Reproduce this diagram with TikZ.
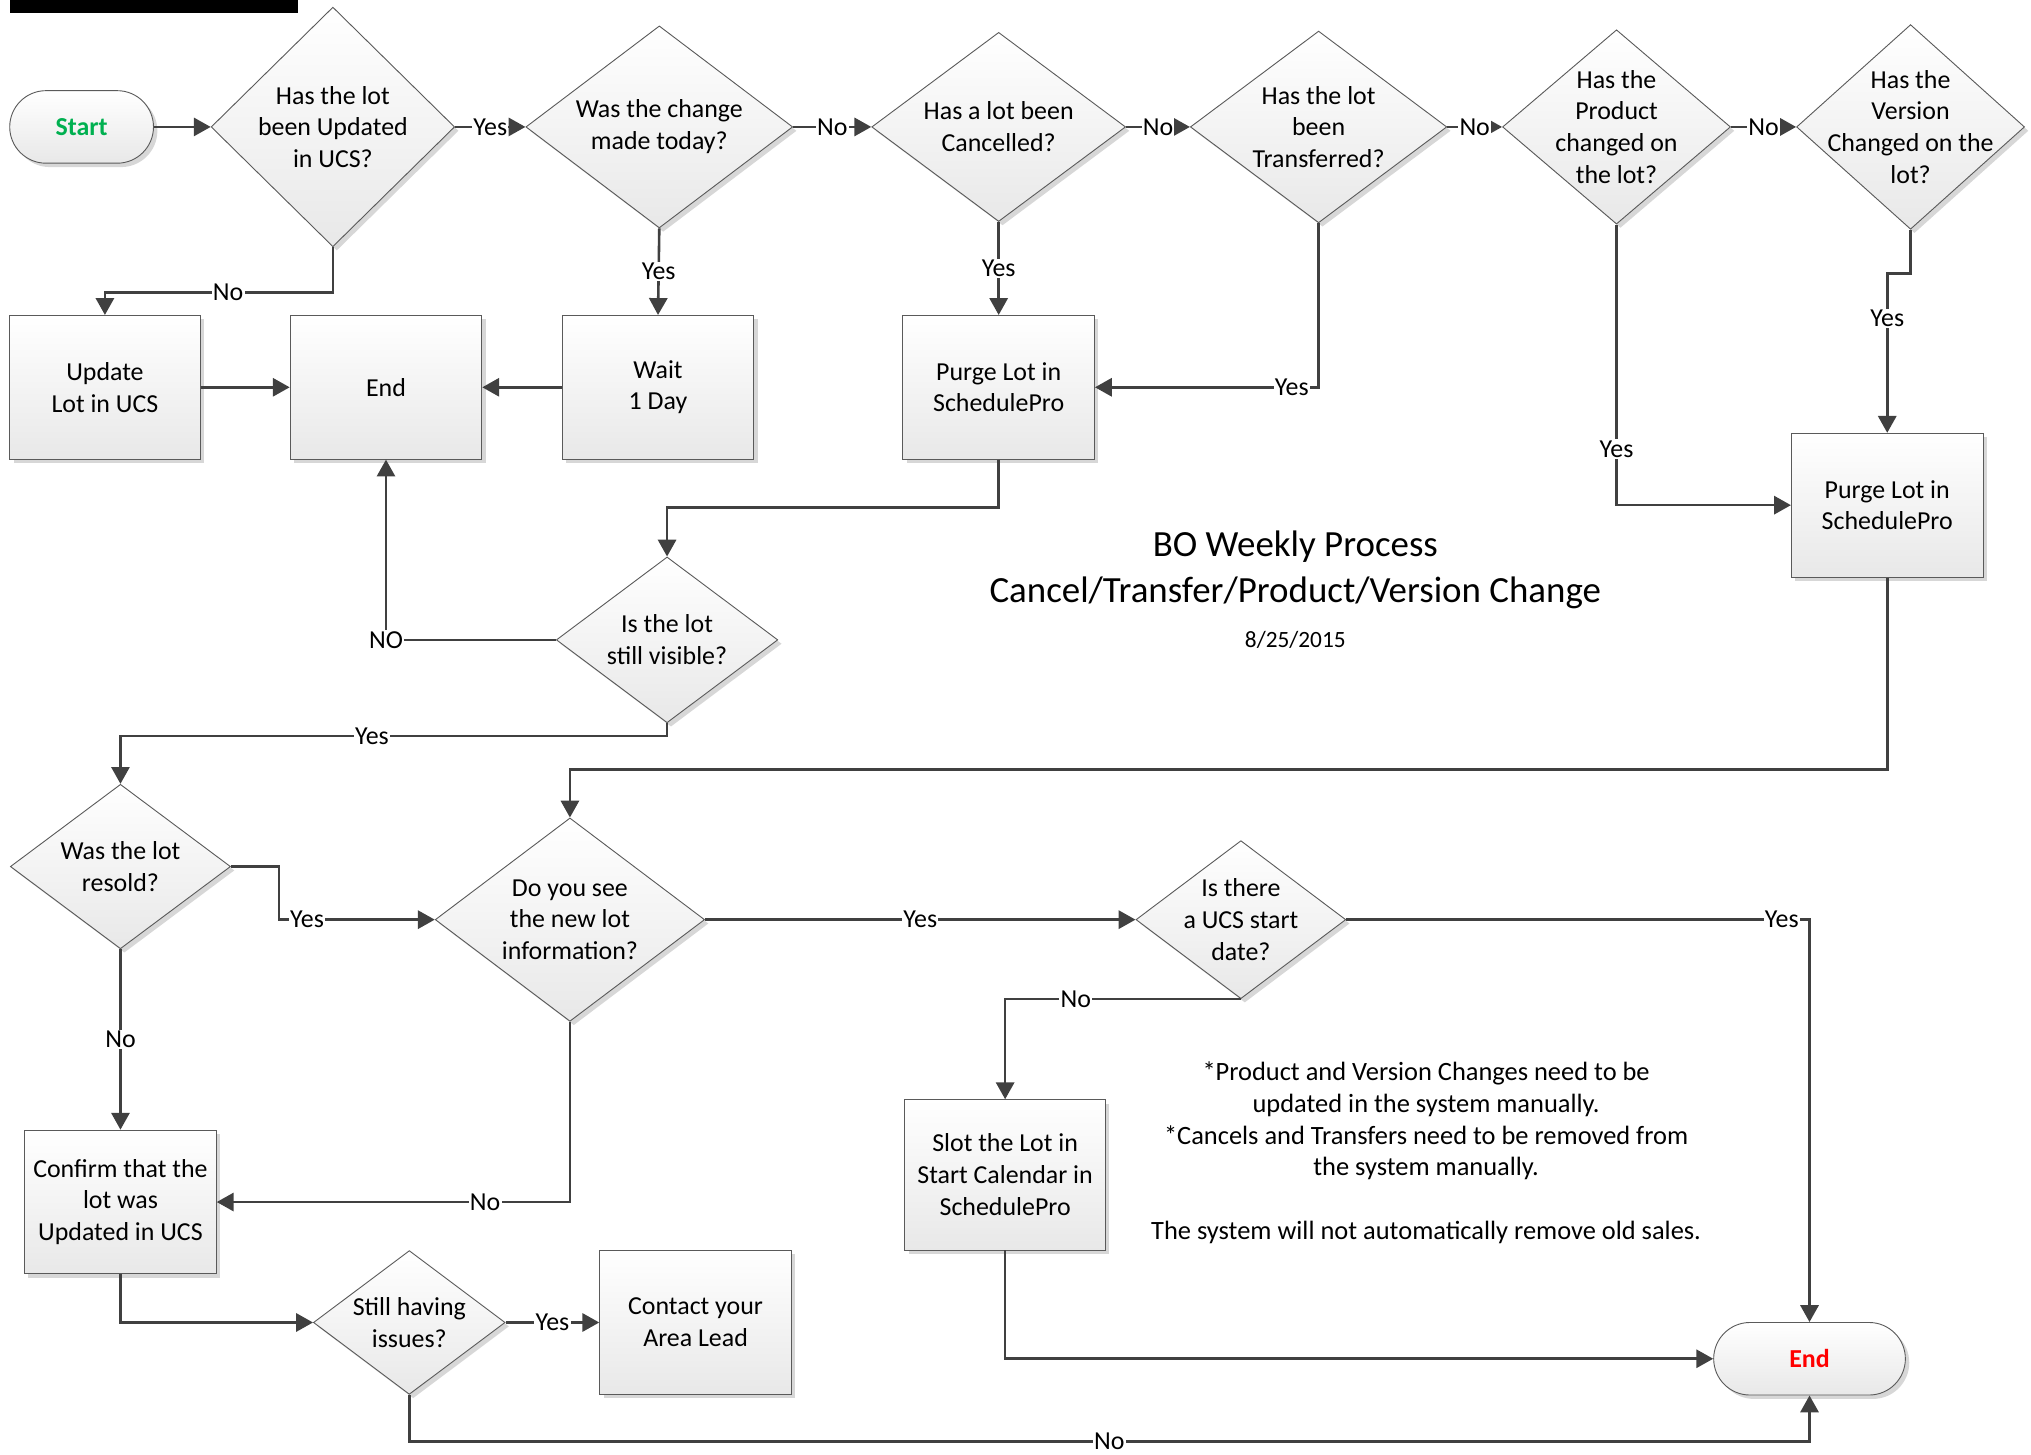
\documentclass[tikz,border=0pt]{standalone}
\usepackage{fontspec}
\setmainfont{Carlito}
\usetikzlibrary{shapes.geometric,arrows.meta,shadows,calc}
\definecolor{lnc}{HTML}{404040}
\definecolor{bordc}{HTML}{5A5A5A}
\definecolor{startg}{HTML}{00B050}
\definecolor{endr}{HTML}{FF0000}
\begin{document}
\begin{tikzpicture}[x=1pt,y=-1pt,
 base/.style={draw=bordc, line width=0.7pt, top color=white, bottom color=black!9,
   drop shadow={shadow xshift=3pt, shadow yshift=-3pt, fill=black!35, opacity=0.45}},
 box/.style={base, rectangle, minimum width=148pt, minimum height=111pt, inner sep=0pt,
   align=center, font=\fontsize{20}{24.5}\selectfont},
 dia/.style={base, diamond, inner sep=0pt},
 dtext/.style={align=center, font=\fontsize{20}{24.5}\selectfont, inner sep=0pt},
 term/.style={base, rectangle, rounded corners=28pt, minimum height=56pt,
   font=\fontsize{20}{24.5}\selectfont\bfseries},
 arr/.style={draw=lnc, line width=2pt, -{Triangle[length=13pt,width=14pt]}},
 lbl/.style={fill=white, inner sep=1pt, font=\fontsize{20}{24}\selectfont, text=black},
]
\useasboundingbox (0,0) rectangle (1568,1123);
\fill[black] (8,0) rectangle (230,10);

% top row
\node[term, minimum width=111pt, text=startg] (start) at (63,98) {Start};
\node[dia, minimum width=188pt, minimum height=185pt,
  label={[dtext]center:Has the lot\\been Updated\\in UCS?}] (d1) at (257,98) {};
\node[dia, minimum width=206pt, minimum height=156pt,
  label={[dtext]center:Was the change\\made today?}] (d2) at (509,98) {};
\node[dia, minimum width=196pt, minimum height=146pt,
  label={[dtext]center:Has a lot been\\Cancelled?}] (d3) at (771,98) {};
\node[dia, minimum width=198pt, minimum height=148pt,
  label={[dtext]center:Has the lot\\been\\Transferred?}] (d4) at (1018,98) {};
\node[dia, minimum width=176pt, minimum height=150pt,
  label={[dtext]center:Has the\\Product\\changed on\\the lot?}] (d5) at (1248,98) {};
\node[dia, minimum width=176pt, minimum height=158pt,
  label={[dtext]center:Has the\\Version\\Changed on the\\lot?}] (d6) at (1475,98) {};

% second row
\node[box, minimum width=147pt] (upd) at (81,299) {Update\\Lot in UCS};
\node[box] (end1) at (298,299) {End};
\node[box] (wait) at (508,299) {Wait\\1 Day};
\node[box] (purge1) at (771,299) {Purge Lot in\\SchedulePro};
\node[box] (purge2) at (1457,390) {Purge Lot in\\SchedulePro};

% middle
\node[dia, minimum width=171pt, minimum height=128pt,
  label={[dtext]center:Is the lot\\still visible?}] (d7) at (515,494) {};
\node[font=\fontsize{28.5}{35}\selectfont, align=center] (title) at (1000,440)
  {BO Weekly Process\\Cancel/Transfer/Product/Version Change};
\node[font=\fontsize{18}{22}\selectfont] (date) at (1000,494) {8/25/2015};

% lower part
\node[dia, minimum width=170pt, minimum height=127pt,
  label={[dtext]center:Was the lot\\resold?}] (d8) at (93,669) {};
\node[dia, minimum width=208pt, minimum height=157pt,
  label={[dtext]center:Do you see\\the new lot\\information?}] (d9) at (440,710) {};
\node[dia, minimum width=162pt, minimum height=122pt,
  label={[dtext]center:Is there\\a UCS start\\date?}] (d10) at (958,710) {};
\node[box, minimum width=155pt, minimum height=116pt] (slot) at (776,907)
  {Slot the Lot in\\Start Calendar in\\SchedulePro};
\node[box] (confirm) at (93,928) {Confirm that the\\lot was\\Updated in UCS};
\node[dia, minimum width=148pt, minimum height=111pt,
  label={[dtext]center:Still having\\issues?}] (d11) at (316,1021) {};
\node[box] (contact) at (537,1021) {Contact your\\Area Lead};
\node[term, minimum width=148pt, text=endr] (end2) at (1397,1049) {End};

\node[align=center, font=\fontsize{20.4}{24.5}\selectfont] (notes) at (1101,890)
  {*Product and Version Changes need to be\\updated in the system manually.\\
   *Cancels and Transfers need to be removed from\\the system manually.\\[24.5pt]
   The system will not automatically remove old sales.};

% connectors
\draw[arr] (start) -- (d1);
\draw[arr] (d1.east) -- node[lbl]{Yes} (d2.west);
\draw[arr] (d2.east) -- node[lbl]{No} (d3.west);
\draw[arr] (d3.east) -- node[lbl]{No} (d4.west);
\draw[arr] (d4.east) -- node[lbl]{No} (d5.west);
\draw[arr] (d5.east) -- node[lbl]{No} (d6.west);

\draw[arr] (d1.south) -- ++(0,35) -| node[lbl,pos=0.23]{No} (upd.north);
\draw[arr] (d2.south) -- node[lbl]{Yes} (wait.north);
\draw[arr] (d3.south) -- node[lbl]{Yes} (purge1.north);
\draw[arr] (d4.south) |- node[lbl,pos=0.56]{Yes} (purge1.east);
\draw[arr] (upd) -- (end1);
\draw[arr] (wait) -- (end1);
\draw[arr] (d5.south) |- node[lbl,pos=0.4]{Yes} (purge2.west);
\draw[arr] (d6.south) -- ++(0,34) -| node[lbl,pos=0.64]{Yes} (purge2.north);

\draw[arr] (purge1.south) -- ++(0,37) -| (d7.north);
\draw[arr] (d7.west) -| node[lbl,pos=0.5]{NO} (end1.south);
\draw[arr] (d7.south) -- ++(0,10) -| node[lbl,pos=0.27]{Yes} (d8.north);
\draw[arr] (purge2.south) -- ++(0,148) -| (d9.north);

\draw[arr] (d8.east) -- ++(37,0) |- node[lbl,pos=0.59]{Yes} (d9.west);
\draw[arr] (d9.east) -- node[lbl]{Yes} (d10.west);
\draw[arr] (d10.east) -| node[lbl,pos=0.47]{Yes} (end2.north);
\draw[arr] (d10.south) -| node[lbl,pos=0.35]{No} (slot.north);
\draw[arr] (slot.south) |- (end2.west);
\draw[arr] (d8.south) -- node[lbl]{No} (confirm.north);
\draw[arr] (d9.south) |- node[lbl,pos=0.62]{No} (confirm.east);
\draw[arr] (confirm.south) |- (d11.west);
\draw[arr] (d11.east) -- node[lbl]{Yes} (contact.west);
\draw[arr] (d11.south) -- ++(0,36) -| node[lbl,pos=0.25]{No} (end2.south);
\end{tikzpicture}
\end{document}
